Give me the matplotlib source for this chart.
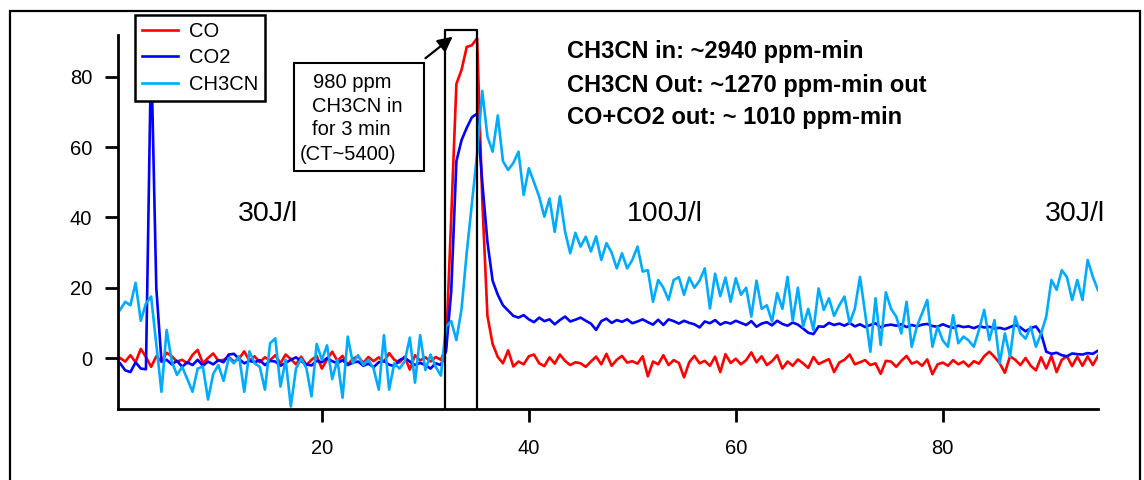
import numpy as np
import matplotlib
matplotlib.use('Agg')
import matplotlib.pyplot as plt
from matplotlib.patches import Rectangle

plt.rcParams['font.family'] = ['Liberation Sans', 'DejaVu Sans']

# sampling grid (minutes)
time_min = np.round(np.arange(1, 191) * 0.5, 1)

co = [
    0.0, -1.0, 0.8, -1.2, 2.6, 0.3, -2.5, 0.5, -1.0, 1.5,
    0.5, -1.0, -0.5, -1.5, 0.9, 2.3, -1.5, 0.0, 1.3, -0.8,
    -0.5, 0.3, -1.0, -0.2, 1.9, -0.8, 0.5, -1.2, 0.2, -0.6,
    0.8, -1.5, 1.0, -0.3, -1.8, 0.4, -2.0, -0.5, 0.6, -3.0,
    -0.4, 1.8, -0.8, 0.6, -1.9, -0.2, 0.5, -1.4, 0.3, -0.9,
    0.2, -1.1, 1.4, -0.5, -1.3, 0.4, -3.3, 0.8, -0.7, 0.2,
    -1.0, 0.3, -0.5, 3.0, 40.0, 78.0, 82.0, 88.5, 89.0, 91.0,
    45.0, 12.0, 4.0, 0.3, -1.5, 2.2, -2.4, -1.0, -1.8, 0.5,
    1.0, -1.5, -2.3, 0.2, -1.6, 1.0, -0.8, -2.0, -1.2, -1.5,
    -2.5, -1.0, 0.4, -1.8, 1.2, -2.2, -0.5, 0.6, -1.3, -0.9,
    -1.6, 0.5, -5.2, -1.0, -1.8, 0.8, -2.0, -0.6, -1.4, -5.5,
    -1.2, 0.6, -1.5, -0.8, -2.2, 0.4, -4.0, 1.1, -1.4, -0.2,
    -1.8, -0.6, 1.6, -1.2, 0.5, -2.0, -0.9, 0.8, -3.0, -1.0,
    -2.2, -0.4, -1.5, -2.8, 0.3, -1.7, -1.0, -0.3, -4.0, -1.3,
    -0.5, 1.0, -1.8, -1.2, -0.6, -2.0, -1.5, -4.5, -0.8, -1.0,
    -2.5, -0.8, 0.6, -1.6, -1.0, -2.2, -0.4, -4.6, -1.8, -1.3,
    -2.2, -0.6, -1.8, -1.0, -2.4, -0.9, -1.6, 0.5, 1.8, 0.3,
    -1.5, -4.2, 0.5, -0.5, -2.0, 0.0, -2.2, -3.5, 0.2, -3.0,
    0.6, -4.0, -0.5, 0.5, -2.3, 0.4, -2.2, 0.5, -2.0, 0.6,
]

co2 = [
    -1.5, -3.5, -4.0, -1.2, -3.0, -3.2, 88.0, 20.0, -1.0, -0.5,
    -1.8, -0.8, -2.5, -1.2, -2.0, -0.5, -2.2, -1.0, -1.8, -0.6,
    -1.2, 1.0, 1.2, -0.3, -1.5, -0.8, -1.2, -0.6, -2.0, -0.8,
    -1.0, -2.2, -1.4, -0.5, 0.2, -0.9, -1.8, -2.1, -0.8, -1.2,
    0.0, -0.9, -1.5, -0.6, -2.0, -1.3, -1.0, -2.2, -1.6, -2.6,
    -1.2, -0.8, -1.9, -2.3, -0.6, 0.1, -1.0, -2.0, -1.4, -2.0,
    -3.0, -1.5, -2.0, 2.0, 19.0, 56.0, 62.0, 65.5, 68.5, 69.5,
    50.0, 33.0, 22.0, 18.0, 15.0, 13.5, 12.0, 11.5, 12.2, 11.0,
    10.2, 11.5, 10.5, 11.0, 9.6, 10.8, 11.8, 10.4, 10.9, 11.5,
    10.6, 9.8, 8.0, 10.5, 11.2, 10.0, 10.8, 10.3, 11.0, 9.9,
    10.4, 11.0, 10.2, 9.5, 10.9, 9.4, 11.0, 10.5, 9.8, 10.6,
    10.0, 9.6, 8.7, 10.4, 9.9, 10.8, 9.5, 10.2, 9.8, 10.6,
    10.0, 9.4, 10.5, 8.9, 9.8, 10.2, 9.3, 10.6, 9.7, 9.2,
    10.1, 9.5, 8.4, 7.2, 6.8, 9.0, 8.9, 10.0, 9.4, 9.8,
    9.2, 10.0, 9.0, 9.6, 8.8, 9.4, 9.9, 8.7, 9.3, 9.5,
    9.2, 9.6, 8.8, 9.4, 9.0, 9.5, 9.7, 9.1, 8.9, 9.6,
    9.0, 8.6, 9.2, 8.8, 9.0, 8.5, 9.1, 8.7, 8.9, 8.4,
    8.6, 8.2, 8.8, 9.4, 8.7, 7.6, 8.5, 9.0, 7.0, 1.8,
    1.2, 1.5, 0.8, 0.5, 1.3, 1.1, 1.0, 1.4, 1.2, 2.1,
]

ch3cn = [
    13.7, 16.0, 15.0, 21.4, 10.6, 15.5, 17.5, 4.0, -9.6, 8.0,
    -1.0, -4.8, -2.5, -6.0, -9.6, -3.0, -2.4, -11.8, -4.5, -2.0,
    -6.5, 0.0, -1.5, 0.5, -9.6, 1.9, -1.5, -2.5, -9.0, 4.2,
    5.6, -8.1, -0.5, -13.8, -3.0, -0.2, -2.8, -10.9, 4.0, -0.5,
    3.6, -6.0, -0.5, -11.3, 6.1, -1.5, 0.8, -2.0, -0.5, -3.0,
    -9.0, 6.5, -9.0, -1.5, -3.0, -1.0, 5.8, -7.0, 6.5, -3.4,
    1.0, -2.5, -5.0, 9.0, 10.5, 5.1, 14.0, 30.0, 44.0, 58.0,
    76.0, 63.0, 58.7, 69.0, 56.0, 53.5, 55.5, 58.7, 46.4, 54.0,
    50.0, 45.9, 40.2, 45.4, 35.9, 46.0, 36.0, 29.8, 35.6, 31.7,
    34.5, 30.3, 34.6, 27.9, 32.7, 30.0, 25.5, 29.8, 25.5, 27.9,
    31.7, 24.6, 25.0, 16.0, 22.2, 20.0, 16.5, 22.2, 23.0, 18.0,
    22.9, 20.0, 22.0, 25.5, 14.1, 24.0, 17.6, 22.9, 16.0, 22.7,
    18.0, 20.0, 11.8, 22.0, 14.0, 15.0, 10.4, 18.5, 14.0, 23.1,
    10.6, 20.0, 8.9, 14.0, 8.0, 19.8, 13.7, 17.0, 12.0, 15.0,
    17.5, 9.9, 14.0, 23.1, 12.7, 1.8, 17.0, 3.7, 18.7, 14.0,
    11.8, 7.0, 16.0, 3.2, 9.0, 12.7, 16.5, 3.2, 8.9, 5.0,
    3.2, 12.2, 4.2, 6.1, 5.0, 3.2, 8.0, 13.7, 5.1, 10.8,
    -1.5, 7.0, 0.4, 11.8, 7.0, 5.5, 8.9, 3.2, 7.0, 11.8,
    22.2, 19.4, 25.0, 23.0, 16.5, 22.2, 16.5, 27.9, 23.1, 19.3,
]

series_labels = ['CO', 'CO2', 'CH3CN']
series_colors = ['#ff0000', '#0000ff', '#00aaff']
x_ticks = [20, 40, 60, 80]
y_ticks = [0, 20, 40, 60, 80]
box_lines = ['980 ppm', 'CH3CN in', 'for 3 min', '(CT~5400)']
summary_lines = ['CH3CN in: ~2940 ppm-min',
                 'CH3CN Out: ~1270 ppm-min out',
                 'CO+CO2 out: ~ 1010 ppm-min']
energy_labels = ['30J/l', '100J/l', '30J/l']

W, H = 1144, 480
fig = plt.figure(figsize=(W / 100, H / 100), dpi=100)
ax = fig.add_axes([118 / W, 1 - 409 / H, (1098 - 118) / W, (409 - 35) / H])

for vals, lab, col in zip([co, co2, ch3cn], series_labels, series_colors):
    ax.plot(time_min, vals, color=col, lw=1.9, label=lab)

ax.set_xlim(0.3, 95.0)
ax.set_ylim(-14.5, 91.9)
ax.set_xticks(x_ticks)
ax.set_yticks(y_ticks)
for s in ['top', 'right']:
    ax.spines[s].set_visible(False)
for s in ['left', 'bottom']:
    ax.spines[s].set_linewidth(2.0)
ax.tick_params(axis='both', direction='out', length=9.5, width=2.0,
               labelsize=14.5, colors='black')
ax.tick_params(axis='y', pad=9)
ax.tick_params(axis='x', pad=12)

# injection window markers
ax.plot([31.9, 31.9, 35.0, 35.0], [-14.5, 93.3, 93.3, -14.5],
        color='black', lw=1.6, clip_on=False, zorder=3)
ax.annotate('', xy=(32.85, 91.9), xytext=(29.8, 84.8),
            arrowprops=dict(arrowstyle='-|>', color='black', lw=1.6,
                            mutation_scale=22),
            annotation_clip=False, zorder=6)

# boxed note
ax.add_patch(Rectangle((17.3, 53.2), 12.56, 30.7, facecolor='white',
                       edgecolor='black', lw=1.5, clip_on=False, zorder=4))
box_x = [19.13, 19.03, 19.03, 17.87]
box_y = [78.5, 71.7, 64.9, 58.0]
for txt, bx, by in zip(box_lines, box_x, box_y):
    ax.text(bx, by, txt, fontsize=14.5, ha='left', va='center', zorder=5)

# summary (bold)
for txt, sy in zip(summary_lines, [87.1, 77.4, 68.3]):
    ax.text(43.67, sy, txt, fontsize=17, fontweight='bold', ha='left',
            va='center', zorder=5)

# energy labels
for txt, ex in zip(energy_labels, [14.8, 53.1, 92.75]):
    ax.text(ex, 41.0, txt, fontsize=20.5, ha='center', va='center', zorder=5)

leg = fig.legend(loc='upper left', bbox_to_anchor=(135 / W, 1 - 15 / H),
                 frameon=True, fancybox=False, edgecolor='black',
                 framealpha=1, fontsize=14.5, handlelength=1.8,
                 handletextpad=0.55, labelspacing=0.38, borderpad=0.33,
                 borderaxespad=0)
leg.get_frame().set_linewidth(1.8)
for line in leg.get_lines():
    line.set_linewidth(1.9)

# outer frame
fig.add_artist(Rectangle((10 / W, -0.05), 1130 / W, 1.05 - 11 / H,
                         transform=fig.transFigure, fill=False,
                         edgecolor='black', lw=1.6, clip_on=False))

fig.savefig('out.png', dpi=100, facecolor='white')
